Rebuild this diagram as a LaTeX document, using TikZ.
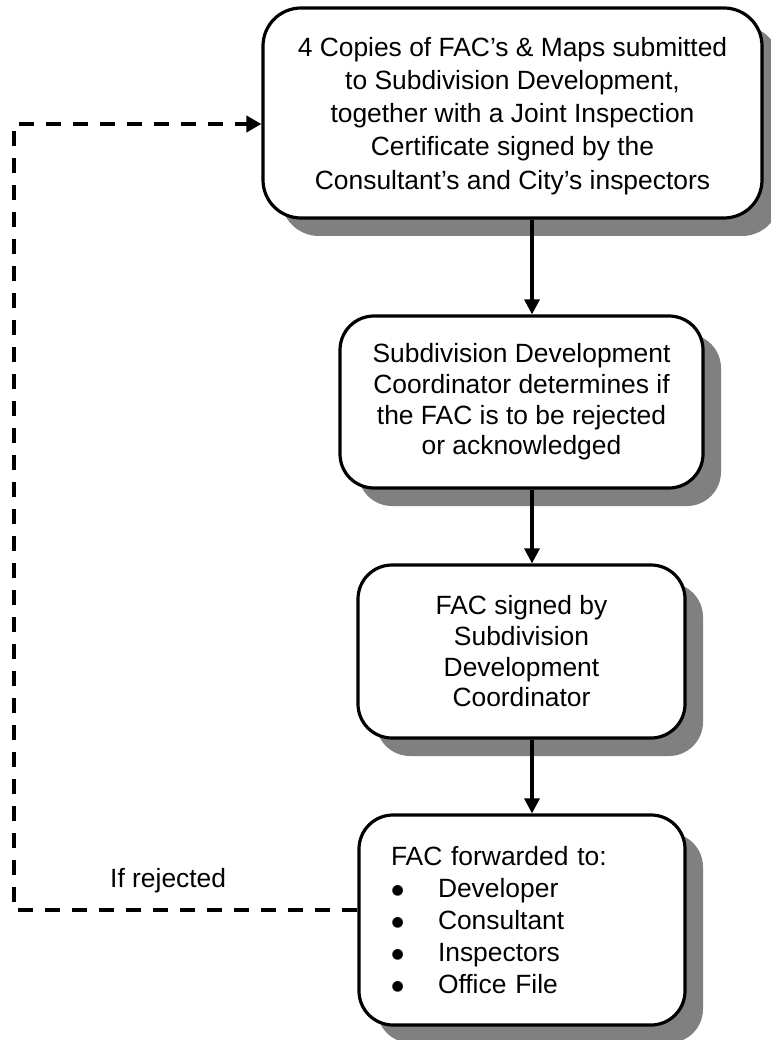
\documentclass[tikz,border=0pt]{standalone}
\usepackage{fontspec}
\setmainfont{Liberation Sans}
\newfontfamily\symfont{DejaVu Sans}
\usetikzlibrary{arrows.meta,shadows}
\newcommand{\bigbul}{\makebox[47pt][l]{\hspace{0.5pt}\raisebox{3pt}{\symfont\fontsize{14}{14}\selectfont ●}}}
\begin{document}
\begin{tikzpicture}[x=1pt,y=-1pt,
  box/.style={draw, line width=3.2pt, rounded corners=34pt, fill=white, align=center, inner sep=0pt,
    drop shadow={shadow xshift=18pt, shadow yshift=-18pt, fill=black!50, opacity=1}},
  arr/.style={line width=3.2pt, -{Triangle[length=15pt,width=15pt]}},
  dashline/.style={line width=4pt, dash pattern=on 15pt off 12pt, -{Triangle[length=15pt,width=16pt]}},
  lbl/.style={font=\fontsize{26.4}{31}\selectfont, inner sep=0pt}
]
\path[use as bounding box] (0,0) rectangle (770,1040);

\node[box, minimum width=499pt, minimum height=210pt, rounded corners=38pt,
  font=\fontsize{26.4}{33.2}\selectfont] (b1) at (512.5,113)
  {\rule{0pt}{25pt}4 Copies of FAC’s \& Maps submitted\\to Subdivision Development,\\together with a Joint Inspection\\Certificate signed by the\\Consultant’s and City’s inspectors};

\node[box, minimum width=363pt, minimum height=172pt,
  font=\fontsize{26.4}{30.7}\selectfont] (b2) at (521.5,402)
  {Subdivision Development\\Coordinator determines if\\the FAC is to be rejected\\or acknowledged};

\node[box, minimum width=327pt, minimum height=173pt,
  font=\fontsize{26.4}{30.7}\selectfont] (b3) at (521.5,651.5)
  {FAC signed by\\Subdivision\\Development\\Coordinator};

\node[box, text width=262pt, inner xsep=32pt, minimum height=210pt, align=left,
  font=\fontsize{26.4}{32.2}\selectfont] (b4) at (522,920)
  {FAC forwarded to:\\
   \bigbul Developer\\
   \bigbul Consultant\\
   \bigbul Inspectors\\
   \bigbul Office File};

\coordinate (ax) at (532,0);
\draw[arr] (b1.south -| ax) -- (b2.north -| ax);
\draw[arr] (b2.south -| ax) -- (b3.north -| ax);
\draw[arr] (b3.south -| ax) -- (b4.north -| ax);

\coordinate (dl) at (14,0);
\coordinate (tin) at ([yshift=-11pt]b1.west);
\coordinate (bout) at ([yshift=10pt]b4.west);
\draw[dashline] (bout) -| (tin -| dl) -- (tin);

\node[lbl, anchor=base west] (rej) at (110,887) {If rejected};
\end{tikzpicture}
\end{document}
